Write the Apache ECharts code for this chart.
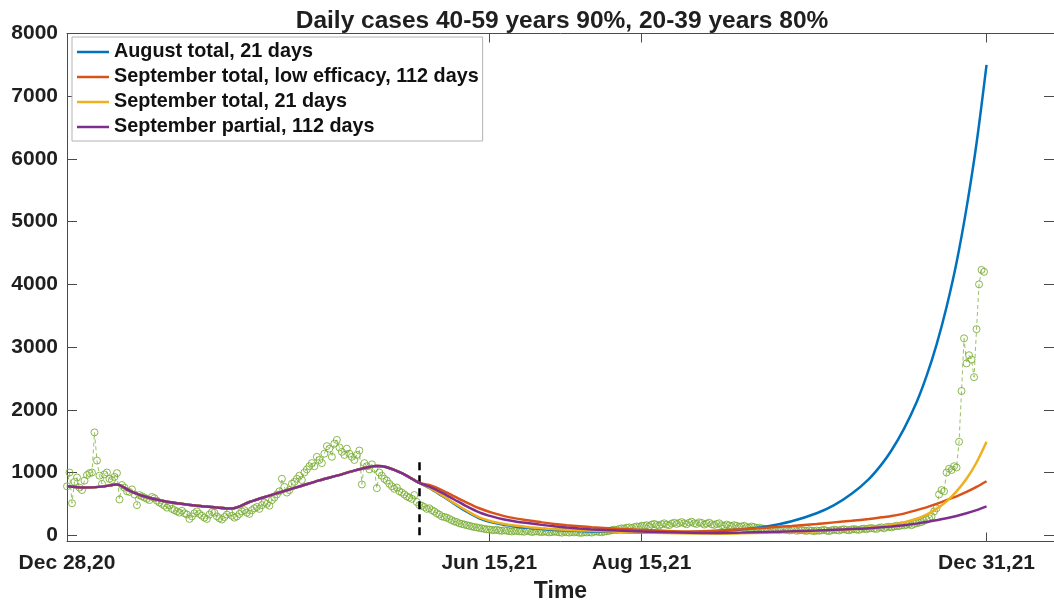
<!DOCTYPE html>
<html>
<head>
<meta charset="utf-8">
<script src="https://cdn.jsdelivr.net/npm/echarts@6/dist/echarts.min.js"></script>
<style>
  html, body { margin: 0; padding: 0; background: #ffffff; }
  #chart { width: 1054px; height: 603px; }
</style>
</head>
<body>
<div id="chart"></div>
<script>
// Time axis: days counted from the first reported day
const startDate = '2020-12-28';
const tickDates = ['2020-12-28', '2021-06-15', '2021-08-15', '2021-12-31'];
const tickLabels = ['Dec 28,20', 'Jun 15,21', 'Aug 15,21', 'Dec 31,21'];
const axisEndDate = '2022-01-27';
const yTicks = [0, 1000, 2000, 3000, 4000, 5000, 6000, 7000, 8000];

// Start of the projection period (vertical dashed marker)
const projectionStart = '2021-05-18';
const markerTop = 1200;

// Reported daily cases, one value per day from startDate
const dailyCases = [
  780, 1000, 510, 850, 920, 760, 720,
  870, 960, 990, 1000, 1640, 1190, 950,
  820, 970, 1000, 900, 880, 930, 990,
  570, 800, 760, 700, 690, 730, 650,
  480, 640, 620, 600, 580, 560, 610,
  590, 550, 520, 500, 470, 440, 480,
  420, 400, 380, 360, 390, 350, 330,
  260, 300, 350, 380, 340, 310, 280,
  260, 330, 370, 360, 300, 270, 250,
  290, 330, 360, 310, 280, 300, 340,
  380, 400, 360, 340, 400, 430, 450,
  420, 480, 520, 500, 470, 560, 600,
  650, 700, 900, 770, 680, 720, 820,
  850, 900, 950, 880, 1000, 1050, 1100,
  1150, 1100, 1250, 1200, 1150, 1300, 1420,
  1380, 1250, 1460, 1520, 1400, 1330, 1280,
  1380, 1300, 1250, 1200, 1280, 1350, 810,
  1150, 1100, 1050, 1130, 1060, 750, 1000,
  950, 900, 870, 820, 780, 740, 760,
  700, 680, 650, 620, 600, 580, 640,
  530, 480, 470, 450, 420, 430, 400,
  380, 350, 330, 300, 290, 280, 260,
  240, 220, 210, 190, 180, 170, 160,
  150, 140, 130, 125, 115, 110, 100,
  95, 90, 85, 80, 88, 75, 70,
  80, 72, 65, 60, 70, 68, 62,
  60, 55, 70, 65, 50, 58, 62,
  55, 48, 60, 52, 45, 50, 58,
  52, 46, 40, 55, 48, 42, 50,
  45, 52, 40, 38, 50, 44, 48,
  42, 55, 60, 50, 46, 58, 62,
  70, 80, 90, 85, 100, 110, 105,
  120, 125, 115, 130, 140, 135, 150,
  150, 160, 145, 170, 180, 165, 155,
  175, 190, 170, 160, 185, 200, 180,
  195, 210, 190, 175, 200, 215, 190,
  180, 205, 195, 170, 185, 200, 175,
  165, 180, 190, 160, 150, 170, 155,
  145, 160, 150, 135, 140, 150, 130,
  125, 140, 130, 115, 120, 110, 105,
  100, 95, 90, 105, 85, 80, 95,
  90, 85, 75, 80, 92, 70, 78,
  82, 75, 68, 80, 72, 65, 75,
  70, 78, 85, 72, 66, 80, 88,
  82, 75, 90, 95, 85, 78, 92,
  98, 90, 85, 100, 105, 95, 110,
  115, 105, 100, 120, 125, 110, 130,
  135, 125, 140, 150, 145, 160, 155,
  165, 175, 160, 180, 190, 200, 210,
  230, 250, 270, 300, 380, 430, 650,
  720, 700, 1000, 1060, 1040, 1100, 1080,
  1490, 2300, 3140, 2740, 2870, 2800, 2520,
  3285, 4000, 4230, 4200
];

// Model fit shared by every scenario up to the projection start
const fitDays   = [0, 7, 14, 20, 25, 30, 38, 45, 52, 59, 66, 73, 80, 87, 94, 101, 108, 115, 120, 124, 128, 134, 141];
const fitShared = [780, 760, 775, 810, 710, 630, 550, 505, 470, 445, 425, 530, 620, 705, 790, 875, 950, 1030, 1080, 1105, 1085, 990, 835];

// Scenario projections
const projDays = [141, 145, 150, 155, 160, 165, 170, 175, 180, 185, 190, 195, 200, 205, 210, 220, 230, 240, 250, 260, 270, 280, 290, 300, 307, 314, 321, 326, 330, 335, 340, 344, 348, 352, 356, 360, 364, 368];
const augTotal21 = [835, 755, 630, 500, 375, 270, 205, 165, 135, 115, 98, 85, 74, 66, 60, 50, 45, 46, 52, 66, 92, 140, 222, 350, 480, 660, 900, 1130, 1355, 1700, 2120, 2540, 3040, 3640, 4350, 5220, 6250, 7500];
const sepTotalLow112 = [840, 800, 720, 620, 520, 430, 360, 305, 265, 235, 205, 180, 160, 143, 128, 105, 85, 68, 60, 72, 95, 120, 148, 180, 205, 230, 260, 285, 305, 345, 400, 445, 500, 560, 620, 690, 770, 860];
const sepTotal21 = [830, 760, 640, 510, 390, 285, 220, 180, 150, 128, 110, 96, 85, 77, 70, 57, 46, 36, 28, 25, 30, 38, 50, 64, 78, 96, 120, 142, 165, 205, 262, 330, 420, 540, 700, 900, 1160, 1490];
const sepPartial112 = [835, 775, 680, 570, 460, 365, 300, 250, 215, 190, 165, 142, 122, 106, 93, 74, 58, 46, 39, 37, 42, 52, 63, 76, 87, 99, 112, 127, 140, 160, 185, 210, 240, 272, 308, 350, 400, 460];

const scenarioNames = [
  'August total, 21 days',
  'September total, low efficacy, 112 days',
  'September total, 21 days',
  'September partial, 112 days'
];
const scenarioValues = [augTotal21, sepTotalLow112, sepTotal21, sepPartial112];
const scenarioColors = ['#0072BD', '#D95319', '#EDB120', '#7E2F8E'];
const obsColor = '#77AC30';

const FONT = '"Liberation Sans", Arial, Helvetica, sans-serif';
const TEXT = '#1f1f1f';
const AXIS = '#4a4a4a';

function dayOf(dateStr) {
  return Math.round((Date.parse(dateStr) - Date.parse(startDate)) / 86400000);
}
const tickDays = tickDates.map(dayOf);
const xMax = dayOf(axisEndDate);
const markerDay = dayOf(projectionStart);

const chart = echarts.init(document.getElementById('chart'), null, { renderer: 'canvas' });

const obsSeries = {
  name: 'Reported',
  type: 'line',
  xAxisIndex: 0,
  yAxisIndex: 0,
  data: dailyCases.map((v, i) => [i, v]),
  symbol: 'circle',
  symbolSize: 7,
  showAllSymbol: true,
  itemStyle: { color: 'rgba(0,0,0,0)', borderColor: obsColor, borderWidth: 1, opacity: 0.85 },
  lineStyle: { color: obsColor, width: 1, type: [4, 3], opacity: 0.75 },
  z: 2,
  silent: true,
  markLine: {
    silent: true,
    symbol: 'none',
    label: { show: false },
    lineStyle: { color: '#000000', width: 2.5, type: [8, 5] },
    data: [[{ coord: [markerDay, 0] }, { coord: [markerDay, markerTop] }]]
  }
};

const fitSeries = scenarioNames.map((name, k) => {
  const pts = fitDays.map((d, i) => [d, fitShared[i]])
    .concat(projDays.slice(1).map((d, i) => [d, scenarioValues[k][i + 1]]));
  return {
    name: name,
    type: 'line',
    xAxisIndex: 0,
    yAxisIndex: 0,
    data: pts,
    symbol: 'none',
    smooth: 0.3,
    lineStyle: { color: scenarioColors[k], width: 2.5 },
    itemStyle: { color: scenarioColors[k] },
    z: 3 + k,
    silent: true
  };
});

const option = {
  animation: false,
  backgroundColor: '#ffffff',
  graphic: [{
    type: 'text',
    x: 562,
    y: 21,
    style: {
      text: 'Daily cases 40-59 years 90%, 20-39 years 80%',
      font: 'bold 24.5px ' + FONT,
      fill: TEXT,
      textAlign: 'center',
      textVerticalAlign: 'middle'
    }
  }],
  grid: { left: 67, right: 0, top: 33.5, bottom: 61.5, containLabel: false, outerBoundsMode: 'none' },
  legend: {
    data: scenarioNames,
    orient: 'vertical',
    left: 72,
    top: 37,
    padding: [5, 4, 4, 5],
    itemGap: 5,
    icon: 'rect',
    itemWidth: 32,
    itemHeight: 2.5,
    backgroundColor: '#ffffff',
    borderColor: '#b3b3b3',
    borderWidth: 1,
    borderRadius: 0,
    selectedMode: false,
    textStyle: { fontFamily: FONT, fontWeight: 'bold', fontSize: 19.8, color: '#111111', lineHeight: 20 }
  },
  xAxis: [{
    type: 'value',
    position: 'bottom',
    min: 0,
    max: xMax,
    name: 'Time',
    nameLocation: 'middle',
    nameGap: 39,
    nameTextStyle: { fontFamily: FONT, fontWeight: 'bold', fontSize: 23, color: TEXT },
    axisLine: { show: true, onZero: false, lineStyle: { color: AXIS, width: 1 } },
    axisTick: { show: true, inside: true, length: 9, customValues: tickDays, lineStyle: { color: AXIS } },
    axisLabel: {
      show: true,
      customValues: tickDays,
      margin: 11,
      fontFamily: FONT, fontWeight: 'bold', fontSize: 21, color: TEXT,
      formatter: v => tickLabels[tickDays.indexOf(Math.round(v))] || ''
    },
    splitLine: { show: false }
  }, {
    type: 'value',
    position: 'top',
    min: 0,
    max: xMax,
    axisLine: { show: true, onZero: false, lineStyle: { color: AXIS, width: 1 } },
    axisTick: { show: true, inside: true, length: 9, customValues: tickDays, lineStyle: { color: AXIS } },
    axisLabel: { show: false },
    splitLine: { show: false }
  }],
  yAxis: [{
    type: 'value',
    position: 'left',
    min: -100,
    max: 8000,
    axisLine: { show: true, onZero: false, lineStyle: { color: AXIS, width: 1 } },
    axisTick: { show: true, inside: true, length: 10, customValues: yTicks, lineStyle: { color: AXIS } },
    axisLabel: {
      show: true,
      customValues: yTicks,
      margin: 9,
      fontFamily: FONT, fontWeight: 'bold', fontSize: 21, color: TEXT,
      formatter: v => String(Math.round(v))
    },
    splitLine: { show: false }
  }, {
    type: 'value',
    position: 'right',
    min: -100,
    max: 8000,
    axisLine: { show: true, onZero: false, lineStyle: { color: AXIS, width: 1 } },
    axisTick: { show: true, inside: true, length: 10, customValues: yTicks, lineStyle: { color: AXIS } },
    axisLabel: { show: false },
    splitLine: { show: false }
  }],
  series: [obsSeries].concat(fitSeries)
};

chart.setOption(option);
</script>
</body>
</html>
